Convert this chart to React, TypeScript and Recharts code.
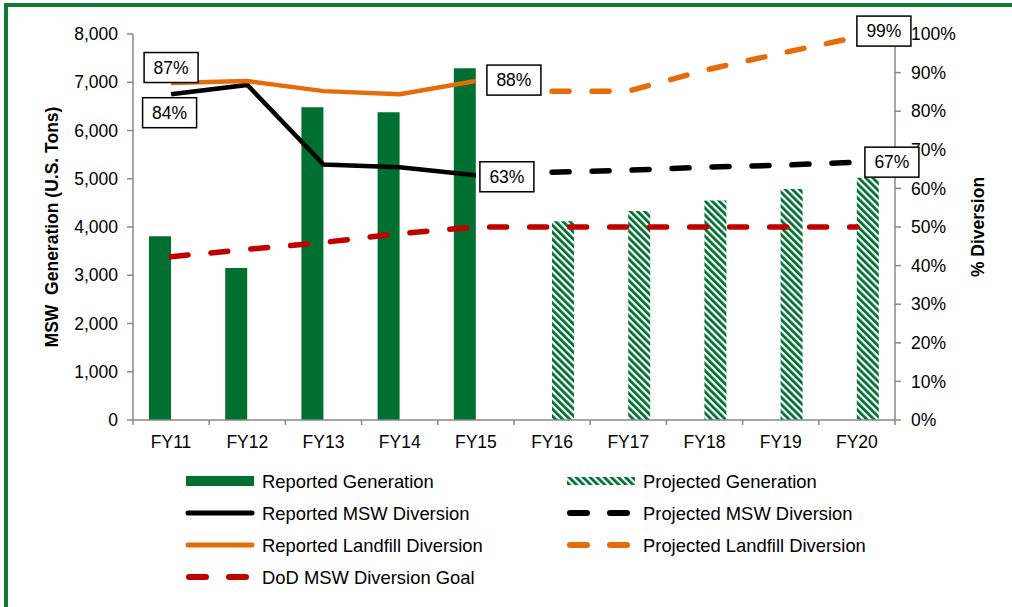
import React from "react";
import {
  ComposedChart,
  Bar,
  Line,
  XAxis,
  YAxis,
  Legend,
  LabelList,
} from "recharts";

const years = ["FY11", "FY12", "FY13", "FY14", "FY15", "FY16", "FY17", "FY18", "FY19", "FY20"];
const reportedGeneration = [3810, 3150, 6480, 6380, 7290, null, null, null, null, null];
const projectedGeneration = [null, null, null, null, null, 4120, 4330, 4550, 4790, 5020];
const reportedMswDiversion = [84.4, 86.8, 66.2, 65.5, 63.4, null, null, null, null, null];
const projectedMswDiversion = [null, null, null, null, null, 64.2, 64.7, 65.5, 66.0, 66.8];
const reportedLandfillDiversion = [87.3, 87.8, 85.2, 84.4, 87.8, null, null, null, null, null];
const projectedLandfillDiversion = [null, null, null, null, null, 85.2, 85.2, 90.6, 95.0, 99.2];
const dodGoal = [42.3, 44.2, 46.0, 48.3, 50, 50, 50, 50, 50, 50];

const tonTicks = [0, 1000, 2000, 3000, 4000, 5000, 6000, 7000, 8000];
const pctTicks = [0, 10, 20, 30, 40, 50, 60, 70, 80, 90, 100];

const legendItems = [
  { name: "Reported Generation", kind: "bar" },
  { name: "Projected Generation", kind: "hatch" },
  { name: "Reported MSW Diversion", kind: "solid", color: "#000000" },
  { name: "Projected MSW Diversion", kind: "dash", color: "#000000" },
  { name: "Reported Landfill Diversion", kind: "solid", color: "#E46C0A" },
  { name: "Projected Landfill Diversion", kind: "dash", color: "#E46C0A" },
  { name: "DoD MSW Diversion Goal", kind: "dash", color: "#C00000" },
];

const data = years.map((year, i) => ({
  year,
  reportedGeneration: reportedGeneration[i],
  projectedGeneration: projectedGeneration[i],
  reportedMswDiversion: reportedMswDiversion[i],
  projectedMswDiversion: projectedMswDiversion[i],
  reportedLandfillDiversion: reportedLandfillDiversion[i],
  projectedLandfillDiversion: projectedLandfillDiversion[i],
  dodGoal: dodGoal[i],
}));

const GREEN = "#007030";
const AXIS = "#898989";
const FONT = 17.5;
const DASH = "17 23";

// label boxes: index -> offset of box centre from the point
const boxLabel = (spots: Record<number, [number, number]>) => (props: any) => {
  const { value, index } = props;
  const spot = spots[index];
  if (!spot || value == null) return null;
  const px = props.x ?? props.viewBox?.x;
  const py = props.y ?? props.viewBox?.y;
  const cx = px + spot[0];
  const cy = py + spot[1];
  return (
    <g>
      <rect x={cx - 27} y={cy - 15} width={54} height={30} fill="#fff" stroke="#000" strokeWidth={1.5} />
      <text x={cx} y={cy} textAnchor="middle" dominantBaseline="central" fontSize={FONT} fill="#000">
        {Math.round(value)}%
      </text>
    </g>
  );
};

const YearTick = (props: any) => {
  const { x, y, payload, index, visibleTicksCount } = props;
  const half = payload?.offset ?? 38.1;
  const last = index === (visibleTicksCount ?? years.length) - 1;
  return (
    <g>
      <line x1={x - half} x2={x - half} y1={y} y2={y + 5} stroke={AXIS} strokeWidth={1.5} />
      {last && <line x1={x + half} x2={x + half} y1={y} y2={y + 5} stroke={AXIS} strokeWidth={1.5} />}
      <text x={x} y={y + 28} textAnchor="middle" fontSize={FONT} fill="#000">
        {payload.value}
      </text>
    </g>
  );
};

const axisTitle = (text: string, dx: number) => (props: any) => {
  const vb = props.viewBox;
  const cx = vb.x + dx;
  const cy = vb.y + vb.height / 2;
  return (
    <text
      x={cx}
      y={cy}
      transform={`rotate(-90, ${cx}, ${cy})`}
      textAnchor="middle"
      dominantBaseline="central"
      fontSize={FONT}
      fontWeight="bold"
      fill="#000"
    >
      {text}
    </text>
  );
};

const LegendBox = () => (
  <svg width={720} height={130}>
    <defs>
      <pattern id="hatchLegend" width="5" height="5" patternUnits="userSpaceOnUse" patternTransform="rotate(-45)">
        <rect width="5" height="5" fill="#fff" />
        <rect width="2.8" height="5" fill={GREEN} />
      </pattern>
    </defs>
    {legendItems.map((item, i) => {
      const col = i % 2;
      const row = Math.floor(i / 2);
      const x0 = col === 0 ? 6 : 387;
      const cy = 16 + row * 32;
      let icon;
      if (item.kind === "bar") {
        icon = <rect x={x0} y={cy - 5} width={68} height={10} fill={GREEN} />;
      } else if (item.kind === "hatch") {
        icon = <rect x={x0} y={cy - 4} width={68} height={8} fill="url(#hatchLegend)" />;
      } else if (item.kind === "solid") {
        icon = <line x1={x0 + 2} x2={x0 + 66} y1={cy} y2={cy} stroke={item.color} strokeWidth={5} strokeLinecap="round" />;
      } else {
        icon = (
          <line
            x1={x0 + 3}
            x2={x0 + 64}
            y1={cy}
            y2={cy}
            stroke={item.color}
            strokeWidth={6}
            strokeLinecap="round"
            strokeDasharray="17 23"
          />
        );
      }
      return (
        <g key={item.name}>
          {icon}
          <text x={x0 + 76} y={cy} dominantBaseline="central" fontSize={18.4} fill="#000">
            {item.name}
          </text>
        </g>
      );
    })}
  </svg>
);

export default function App() {
  return (
    <div
      style={{
        position: "absolute",
        left: 0,
        top: 0,
        width: 1012,
        height: 607,
        overflow: "hidden",
        background: "#fff",
        fontFamily: "'Liberation Sans', Arial, sans-serif",
      }}
    >
      <div
        style={{
          position: "absolute",
          left: 4,
          top: 3,
          width: 1100,
          height: 700,
          borderLeft: "4px solid #0e7a35",
          borderTop: "4px solid #0e7a35",
        }}
      />
      <div style={{ position: "absolute", left: 0, top: 0 }}>
        <ComposedChart
          width={1012}
          height={607}
          data={data}
          margin={{ top: 34, right: 0, bottom: 157, left: 0 }}
          barGap={0}
        >
          <defs>
            <pattern id="hatch" width="5" height="5" patternUnits="userSpaceOnUse" patternTransform="rotate(-45)">
              <rect width="5" height="5" fill="#fff" />
              <rect width="2.8" height="5" fill={GREEN} />
            </pattern>
          </defs>
          <XAxis
            dataKey="year"
            height={30}
            interval={0}
            tickLine={false}
            tickSize={0}
            tickMargin={0}
            axisLine={{ stroke: AXIS, strokeWidth: 1.5 }}
            tick={<YearTick />}
          />
          <YAxis
            yAxisId="tons"
            orientation="left"
            width={133}
            domain={[0, 8000]}
            ticks={tonTicks}
            interval={0}
            tickFormatter={(v: number) => v.toLocaleString("en-US")}
            tick={{ fill: "#000", fontSize: FONT }}
            tickSize={6}
            tickMargin={9}
            tickLine={{ stroke: AXIS, strokeWidth: 1.5 }}
            axisLine={{ stroke: AXIS, strokeWidth: 1.5 }}
            label={axisTitle("MSW\u00a0 Generation (U.S. Tons)", 52)}
          />
          <YAxis
            yAxisId="pct"
            orientation="right"
            width={117}
            domain={[0, 100]}
            ticks={pctTicks}
            interval={0}
            tickFormatter={(v: number) => `${v}%`}
            tick={{ fill: "#000", fontSize: FONT, textAnchor: "start" }}
            tickSize={6}
            tickMargin={10}
            tickLine={{ stroke: AXIS, strokeWidth: 1.5 }}
            axisLine={{ stroke: AXIS, strokeWidth: 1.5 }}
            label={axisTitle("% Diversion", 83)}
          />
          <Bar
            yAxisId="tons"
            dataKey="reportedGeneration"
            name="Reported Generation"
            fill={GREEN}
            barSize={22}
            isAnimationActive={false}
          />
          <Bar
            yAxisId="tons"
            dataKey="projectedGeneration"
            name="Projected Generation"
            fill="url(#hatch)"
            barSize={22}
            isAnimationActive={false}
          />
          <Line
            yAxisId="pct"
            dataKey="reportedMswDiversion"
            name="Reported MSW Diversion"
            stroke="#000"
            strokeWidth={4.5}
            dot={false}
            activeDot={false}
            isAnimationActive={false}
          >
            <LabelList dataKey="reportedMswDiversion" content={boxLabel({ 0: [-1.5, 18.5], 4: [31, 1.5] })} />
          </Line>
          <Line
            yAxisId="pct"
            dataKey="projectedMswDiversion"
            name="Projected MSW Diversion"
            stroke="#000"
            strokeWidth={5.5}
            strokeLinecap="round"
            strokeDasharray={DASH}
            dot={false}
            activeDot={false}
            isAnimationActive={false}
          >
            <LabelList dataKey="projectedMswDiversion" content={boxLabel({ 9: [35, 0] })} />
          </Line>
          <Line
            yAxisId="pct"
            dataKey="reportedLandfillDiversion"
            name="Reported Landfill Diversion"
            stroke="#E46C0A"
            strokeWidth={4.5}
            dot={false}
            activeDot={false}
            isAnimationActive={false}
          >
            <LabelList dataKey="reportedLandfillDiversion" content={boxLabel({ 0: [0, -15.5], 4: [38, -1] })} />
          </Line>
          <Line
            yAxisId="pct"
            dataKey="projectedLandfillDiversion"
            name="Projected Landfill Diversion"
            stroke="#E46C0A"
            strokeWidth={5.5}
            strokeLinecap="round"
            strokeDasharray={DASH}
            dot={false}
            activeDot={false}
            isAnimationActive={false}
          >
            <LabelList dataKey="projectedLandfillDiversion" content={boxLabel({ 9: [27, -6] })} />
          </Line>
          <Line
            yAxisId="pct"
            dataKey="dodGoal"
            name="DoD MSW Diversion Goal"
            stroke="#C00000"
            strokeWidth={5.5}
            strokeLinecap="round"
            strokeDasharray={DASH}
            dot={false}
            activeDot={false}
            isAnimationActive={false}
          />
          <Legend
            layout="vertical"
            align="center"
            verticalAlign="middle"
            wrapperStyle={{ top: 465, left: 180, width: 720, height: 130 }}
            content={() => <LegendBox />}
          />
        </ComposedChart>
      </div>
    </div>
  );
}
